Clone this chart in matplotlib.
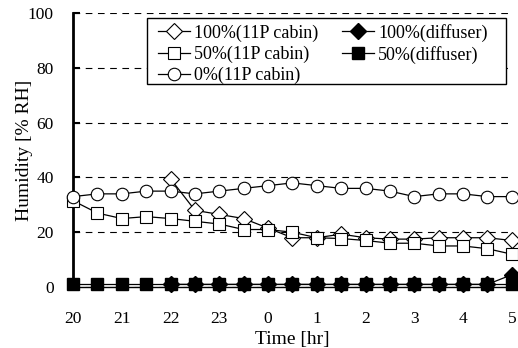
import matplotlib
matplotlib.use("Agg")
import matplotlib.pyplot as plt
from matplotlib.patches import Rectangle
import numpy as np

plt.rcParams['font.family'] = ['Liberation Serif', 'DejaVu Serif']
plt.rcParams['font.size'] = 12

# time in hours after 20:00 (20 .. 29 -> 20:00 .. 5:00)
t_full = [20, 20.5, 21, 21.5, 22, 22.5, 23, 23.5, 24, 24.5, 25, 25.5, 26, 26.5, 27, 27.5, 28, 28.5, 29]
t_late = t_full[4:]
tick_pos = [20, 21, 22, 23, 24, 25, 26, 27, 28, 29]
tick_lbl = ['20', '21', '22', '23', '0', '1', '2', '3', '4', '5']

cabin_100 = [39.5, 28, 26.5, 25, 21.5, 18, 18, 19.3, 18, 17.5, 17.5, 18, 18, 18, 17]
cabin_50 = [31.5, 27, 25, 25.7, 25, 24, 23, 21, 21, 20, 18, 17.7, 17, 16, 16, 15, 15, 14, 12]
cabin_0 = [33, 34, 34, 35, 35, 34, 35, 36, 37, 38, 37, 36, 36, 35, 33, 34, 34, 33, 33]
diff_100 = [1, 1, 1, 1, 1, 1, 1, 1, 1, 1, 1, 1, 1, 1, 4.5]
diff_50 = [1, 1, 1, 1, 1, 1, 1, 1, 1, 1, 1, 1, 1, 1, 1, 1, 1, 1, 1]

fig = plt.figure(figsize=(5.18, 3.48), dpi=100)
ax = fig.add_axes([0.141, 0.175, 0.847, 0.788])

ms = 8.5
lw = 0.9
ax.plot(t_late, cabin_100, '-', color='black', lw=lw, marker='D', ms=ms * 0.9,
        mfc='white', mec='black', mew=0.8, label='100%(11P cabin)', clip_on=False, zorder=3)
ax.plot(t_full, cabin_50, '-', color='black', lw=lw, marker='s', ms=ms,
        mfc='white', mec='black', mew=0.8, label='50%(11P cabin)', clip_on=False, zorder=3)
ax.plot(t_full, cabin_0, '-', color='black', lw=lw, marker='o', ms=ms + 0.5,
        mfc='white', mec='black', mew=0.8, label='0%(11P cabin)', clip_on=False, zorder=3)
ax.plot(t_late, diff_100, '-', color='black', lw=lw, marker='D', ms=ms * 0.9,
        mfc='black', mec='black', label='100%(diffuser)', clip_on=False, zorder=4)
ax.plot(t_full, diff_50, '-', color='black', lw=lw, marker='s', ms=ms,
        mfc='black', mec='black', label='50%(diffuser)', clip_on=False, zorder=4)

ax.set_xlim(20, 29)
ax.set_ylim(0, 100)
ax.set_xticks(tick_pos)
ax.set_xticklabels(tick_lbl)
ax.set_yticks([0, 20, 40, 60, 80, 100])
ax.yaxis.grid(True, linestyle=(0, (6, 5)), color='black', lw=0.8)
ax.set_axisbelow(True)
ax.tick_params(axis='y', direction='in', length=5, width=1.5, pad=14, labelsize=12.5)
ax.tick_params(axis='x', length=0, pad=17, labelsize=12.5)
for s in ['top', 'right']:
    ax.spines[s].set_visible(False)
ax.spines['left'].set_linewidth(2)
ax.spines['bottom'].set_linewidth(1)

ax.set_xlabel('Time [hr]', labelpad=3, fontsize=14)
ax.set_ylabel('Humidity [% RH]', labelpad=-4, fontsize=14)

# legend box (wider padding on the right, as in the original)
box = Rectangle((0.1686, 0.741), 0.8177, 0.241, transform=ax.transAxes,
                facecolor='white', edgecolor='black', lw=1, zorder=4.5)
ax.add_patch(box)
leg = ax.legend(ncol=2, loc='upper left', bbox_to_anchor=(0.1936, 0.960), frameon=False,
                fontsize=13, handlelength=1.8, handletextpad=0.2, columnspacing=1.3,
                labelspacing=0.22, borderpad=0, borderaxespad=0)
leg.set_zorder(5)

fig.savefig('out.png', dpi=100)
